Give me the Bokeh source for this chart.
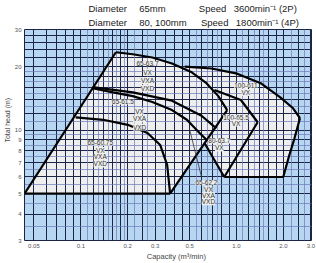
from bokeh.plotting import figure
from bokeh.models import FixedTicker, Grid, Title
from bokeh.embed import file_html
from bokeh.resources import INLINE
from bokeh.core.properties import value

# ---------------- data ----------------
x_ticks = [0.05, 0.1, 0.2, 0.3, 0.5, 1.0, 2.0, 3.0]
x_tick_labels = ["0.05", "0.1", "0.2", "0.3", "0.5", "1.0", "2.0", "3.0"]
y_ticks = [3, 4, 5, 6, 7, 8, 9, 10, 20, 30]

# 65 mm / 3600 rpm group
g65_left_q = [0.0435, 0.168]
g65_left_h = [5.0, 23.4]
c65_637_q = [0.168, 0.2156, 0.288, 0.385, 0.516, 0.641, 0.764, 0.871]
c65_637_h = [23.4, 22.9, 22.1, 20.7, 18.8, 16.7, 14.5, 12.45]
g65_right_q = [0.871, 0.3746]
g65_right_h = [12.45, 5.0]
g65_bottom_q = [0.0435, 0.3746]
g65_bottom_h = [5.0, 5.0]
c65_637d_q = [0.1187, 0.2156, 0.385, 0.596, 0.742]
c65_637d_h = [16.0, 15.1, 13.8, 11.7, 10.2]
c65_615_q = [0.1187, 0.161, 0.2156, 0.288, 0.385, 0.480, 0.579, 0.641]
c65_615_h = [15.8, 15.1, 14.5, 13.6, 12.45, 11.2, 9.7, 9.0]
c65_6075_q = [0.0927, 0.1393, 0.2004, 0.268, 0.3237, 0.3585, 0.3746]
c65_6075_h = [11.5, 11.2, 10.6, 9.7, 8.5, 6.85, 5.0]

# 80/100 mm / 1800 rpm group
c100_611_q = [0.4658, 0.690, 0.992, 1.428, 1.910, 2.307, 2.555]
c100_611_h = [20.0, 19.6, 18.6, 16.7, 14.3, 12.7, 11.4]
g18_right_q = [2.555, 2.35, 2.17, 1.995]
g18_right_h = [11.4, 9.1, 7.5, 6.0]
g18_bottom_q = [1.995, 0.834]
g18_bottom_h = [6.0, 6.0]
g18_left_q = [0.834, 0.623]
g18_left_h = [6.0, 8.7]
c100_655_q = [0.721, 1.067, 1.367]
c100_655_h = [15.5, 13.9, 10.9]
e100_655_q = [1.367, 0.834]
e100_655_h = [10.9, 6.0]

labels_text = ["65-63.7", "VX", "VXA", "VXD",
               "65-61.5", "VX", "VXA", "VXD",
               "65-60.75", "VX", "VXA", "VXD",
               "100-611", "VX", "100-65.5", "VX", "80-63.7", "VX",
               "65-62.2", "VX", "VXA", "VXD"]
labels_q = [0.268, 0.268, 0.268, 0.268,
            0.1863, 0.2385, 0.2385, 0.2385,
            0.1333, 0.1333, 0.1333, 0.1333,
            1.148, 1.148, 0.992, 0.992, 0.775, 0.775,
            0.641, 0.660, 0.660, 0.660]
labels_h = [20.7, 18.8, 17.2, 15.8,
            13.6, 12.3, 11.3, 10.35,
            8.7, 8.0, 7.47, 6.92,
            16.3, 15.1, 11.5, 10.8, 8.89, 8.24,
            5.63, 5.22, 4.89, 4.58]
leader_q = [0.501, 0.596]
leader_h = [10.0, 6.0]

title_row1 = "Diameter\u2002\u2002\u00a065mm" + "\u2002" * 7 + "Speed\u2002\u00a03600min\u207b\u00b9 (2P)"
title_row2 = "Diameter\u2002\u2002\u00a080, 100mm" + "\u2002" * 3 + "Speed\u2002\u00a01800min\u207b\u00b9 (4P)"

# ---------------- figure ----------------
p = figure(width=316, height=263, x_axis_type="log", y_axis_type="log",
           x_range=(0.0435, 3.03), y_range=(3, 30),
           output_backend="svg", toolbar_location=None,
           min_border_left=20, min_border_right=5, min_border_top=29,
           min_border_bottom=22, background_fill_color="#b6d6f2",
           border_fill_color="white", outline_line_color="#1c2448")

# grey covered areas
p.patch(g65_left_q + c65_637_q + g65_right_q + g65_bottom_q[::-1],
        g65_left_h + c65_637_h + g65_right_h + g65_bottom_h[::-1],
        fill_color="#eeeeee", line_color=None, level="image")
p.patch(c100_611_q + g18_right_q + g18_bottom_q + g18_left_q + c65_637_q[4:],
        c100_611_h + g18_right_h + g18_bottom_h + g18_left_h + c65_637_h[4:],
        fill_color="#eeeeee", line_color=None, level="image")

# grid
dark_x = [0.05, 0.06, 0.07, 0.08, 0.09, 0.1, 0.12, 0.14, 0.16, 0.18, 0.2,
          0.25, 0.3, 0.35, 0.4, 0.45, 0.5, 0.6, 0.7, 0.8, 0.9, 1.0,
          1.2, 1.4, 1.6, 1.8, 2.0, 2.5, 3.0]
light_x = [0.11, 0.13, 0.15, 0.17, 0.19, 0.22, 0.27, 0.55, 0.65, 0.75, 1.1, 1.3, 1.5, 2.25, 2.75]
dark_y = [3, 4, 5, 6, 7, 8, 9, 10, 12, 14, 16, 18, 20, 22, 24, 26, 28, 30]
light_y = [3.5, 4.5, 5.5, 6.5, 7.5, 8.5, 9.5, 11, 13, 15, 17, 19]

p.xgrid.ticker = FixedTicker(ticks=dark_x)
p.xgrid.grid_line_color = "#1c2448"
p.xgrid.grid_line_width = 1
p.ygrid.ticker = FixedTicker(ticks=dark_y)
p.ygrid.grid_line_color = "#1c2448"
p.ygrid.grid_line_width = 1
p.add_layout(Grid(dimension=0, ticker=FixedTicker(ticks=light_x),
                  grid_line_color="#6a78b8", grid_line_width=0.7), "center")
p.add_layout(Grid(dimension=1, ticker=FixedTicker(ticks=light_y),
                  grid_line_color="#6a78b8", grid_line_width=0.7), "center")

# boundary and pump curves
lw = 2.2
for qs, hs in [(g65_left_q, g65_left_h), (c65_637_q, c65_637_h), (g65_right_q, g65_right_h),
               (g65_bottom_q, g65_bottom_h), (c65_637d_q, c65_637d_h), (c65_615_q, c65_615_h),
               (c65_6075_q, c65_6075_h), (c100_611_q, c100_611_h), (g18_right_q, g18_right_h),
               (g18_bottom_q, g18_bottom_h), (g18_left_q, g18_left_h), (c100_655_q, c100_655_h),
               (e100_655_q, e100_655_h)]:
    p.line(qs, hs, line_color="black", line_width=lw)
p.line(leader_q, leader_h, line_color="#333333", line_width=0.8)

p.text(labels_q, labels_h, text=labels_text, text_font=value("Liberation Sans"),
       text_font_size="6.5px", text_color="#333333", text_align="center",
       text_baseline="middle", background_fill_color="#eeeeee")

# axes
p.xaxis.ticker = FixedTicker(ticks=x_ticks)
p.xaxis.major_label_overrides = {t: l for t, l in zip(x_ticks, x_tick_labels)}
p.yaxis.ticker = FixedTicker(ticks=y_ticks)
p.yaxis.major_label_overrides = {t: str(t) for t in y_ticks}
for ax in (p.xaxis[0], p.yaxis[0]):
    ax.major_tick_line_color = None
    ax.minor_tick_line_color = None
    ax.major_tick_out = 0
    ax.major_tick_in = 0
    ax.minor_tick_out = 0
    ax.minor_tick_in = 0
    ax.axis_line_color = None
    ax.major_label_text_font = "Liberation Sans"
    ax.major_label_text_font_size = "6px"
    ax.major_label_text_color = "#555555"
    ax.major_label_standoff = 3
    ax.axis_label_text_font = "Liberation Sans"
    ax.axis_label_text_font_style = "normal"
    ax.axis_label_text_color = "#444444"
    ax.axis_label_standoff = 1
p.xaxis.axis_label_text_font_size = "7.5px"
p.yaxis.axis_label_text_font_size = "7px"
p.xaxis.axis_label = "\u2002" * 5 + "Capacity  (m³/min)"
p.yaxis.axis_label = "\u2002" * 9 + "Total head  (m)"

# titles (later added = further from frame)
p.add_layout(Title(text=title_row2, align="left", offset=64, standoff=3,
                   text_font="Liberation Sans", text_font_size="9.5px",
                   text_font_style="normal", text_color="#222222"), "above")
p.add_layout(Title(text=title_row1, align="left", offset=64, standoff=0,
                   text_font="Liberation Sans", text_font_size="9.5px",
                   text_font_style="normal", text_color="#222222"), "above")

open("out.html", "w").write(file_html(p, INLINE))
